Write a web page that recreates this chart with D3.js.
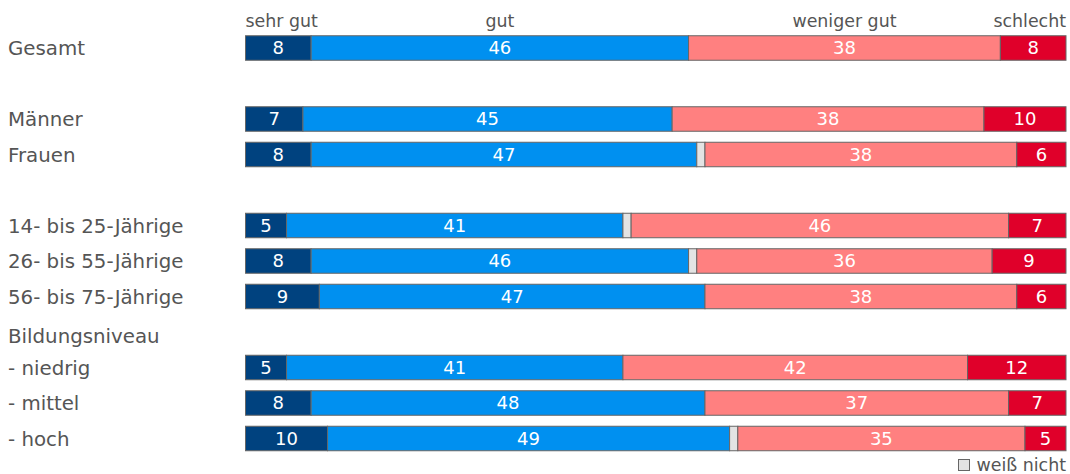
<!DOCTYPE html>
<html>
<head>
<meta charset="utf-8">
<script src="https://cdn.jsdelivr.net/npm/d3@7"></script>
<style>
  body { margin: 0; background: #fff; }
  svg { display: block; font-family: "DejaVu Sans", Verdana, sans-serif; }
</style>
</head>
<body>
<div id="chart"></div>
<script>
// Zeilen (leere Strings = Abstand, "Bildungsniveau" = Überschrift ohne Balken)
const rowLabels = ["Gesamt", "", "Männer", "Frauen", "", "14- bis 25-Jährige", "26- bis 55-Jährige",
  "56- bis 75-Jährige", "Bildungsniveau", "- niedrig", "- mittel", "- hoch"];

// Werte je Kategorie (null = kein Balken)
const sehrGut    = [8, null, 7, 8, null, 5, 8, 9, null, 5, 8, 10];
const gut        = [46, null, 45, 47, null, 41, 46, 47, null, 41, 48, 49];
const weissNicht = [0, null, 0, 1, null, 1, 1, 0, null, 0, 0, 1];
const wenigerGut = [38, null, 38, 38, null, 46, 36, 38, null, 42, 37, 35];
const schlecht   = [8, null, 10, 6, null, 7, 9, 6, null, 12, 7, 5];

const seriesNames = ["sehr gut", "gut", "weiß nicht", "weniger gut", "schlecht"];
const seriesValues = [sehrGut, gut, weissNicht, wenigerGut, schlecht];
const seriesColors = ["#00427f", "#0090f0", "#e3e3e3", "#ff8080", "#e0002a"];
const headerLabels = ["sehr gut", "gut", "weniger gut", "schlecht"];

const W = 1070, H = 474;
const svg = d3.select("#chart").append("svg").attr("width", W).attr("height", H);

const x = d3.scaleLinear().domain([0, 100]).range([245.5, 1066]);
const y = d3.scaleBand().domain(d3.range(rowLabels.length))
  .range([30.25, 456.25]).paddingInner(0.31).paddingOuter(0.155);

// Daten für Stapel
const table = rowLabels.map((label, i) => {
  const row = { idx: i, label };
  seriesNames.forEach((s, k) => row[s] = seriesValues[k][i]);
  return row;
});
const barRows = table.filter(d => d["gut"] !== null);
const stacked = d3.stack().keys(seriesNames)(barRows);

// Zeilenbeschriftungen
svg.append("g").selectAll("text")
  .data(table.filter(d => d.label !== ""))
  .enter().append("text")
  .attr("x", 8)
  .attr("y", d => y(d.idx) + y.bandwidth() / 2 + (d.label === "Bildungsniveau" ? 4 : 0))
  .attr("dy", "0.36em")
  .attr("font-size", 19.8)
  .attr("fill", "#555")
  .text(d => d.label);

// Segmente
const layers = svg.append("g").selectAll("g")
  .data(stacked).enter().append("g")
  .attr("fill", (d, i) => seriesColors[i]);

layers.selectAll("rect")
  .data(d => d.filter(p => p[1] - p[0] > 0))
  .enter().append("rect")
  .attr("x", p => x(p[0]))
  .attr("y", p => y(p.data.idx))
  .attr("width", p => x(p[1]) - x(p[0]))
  .attr("height", y.bandwidth())
  .attr("stroke", "#666")
  .attr("stroke-width", 1);

// Werte
layers.selectAll("text")
  .data((d, i) => d.filter(p => p[1] - p[0] > 0 && seriesNames[i] !== "weiß nicht"))
  .enter().append("text")
  .attr("x", p => (x(p[0]) + x(p[1])) / 2)
  .attr("y", p => y(p.data.idx) + y.bandwidth() / 2)
  .attr("dy", "0.36em")
  .attr("text-anchor", "middle")
  .attr("font-size", 18)
  .attr("fill", "#fff")
  .text(p => p[1] - p[0]);

// Kopfzeile über dem ersten Balken
const headerPos = headerLabels.map(name => {
  const k = seriesNames.indexOf(name);
  const seg = stacked[k][0];
  if (name === "sehr gut") return { name, x: x(0), anchor: "start" };
  if (name === "schlecht") return { name, x: x(100), anchor: "end" };
  return { name, x: (x(seg[0]) + x(seg[1])) / 2, anchor: "middle" };
});
svg.append("g").selectAll("text")
  .data(headerPos).enter().append("text")
  .attr("x", d => d.x)
  .attr("y", 27)
  .attr("text-anchor", d => d.anchor)
  .attr("font-size", 17.4)
  .attr("fill", "#555")
  .text(d => d.name);

// Legende "weiß nicht"
const legend = svg.append("g");
legend.append("text")
  .attr("x", 1066).attr("y", 470.5)
  .attr("text-anchor", "end")
  .attr("font-size", 17.4)
  .attr("fill", "#555")
  .text("weiß nicht");
legend.append("rect")
  .attr("x", 958.5).attr("y", 459.5)
  .attr("width", 11).attr("height", 11)
  .attr("fill", seriesColors[2])
  .attr("stroke", "#666");
</script>
</body>
</html>
